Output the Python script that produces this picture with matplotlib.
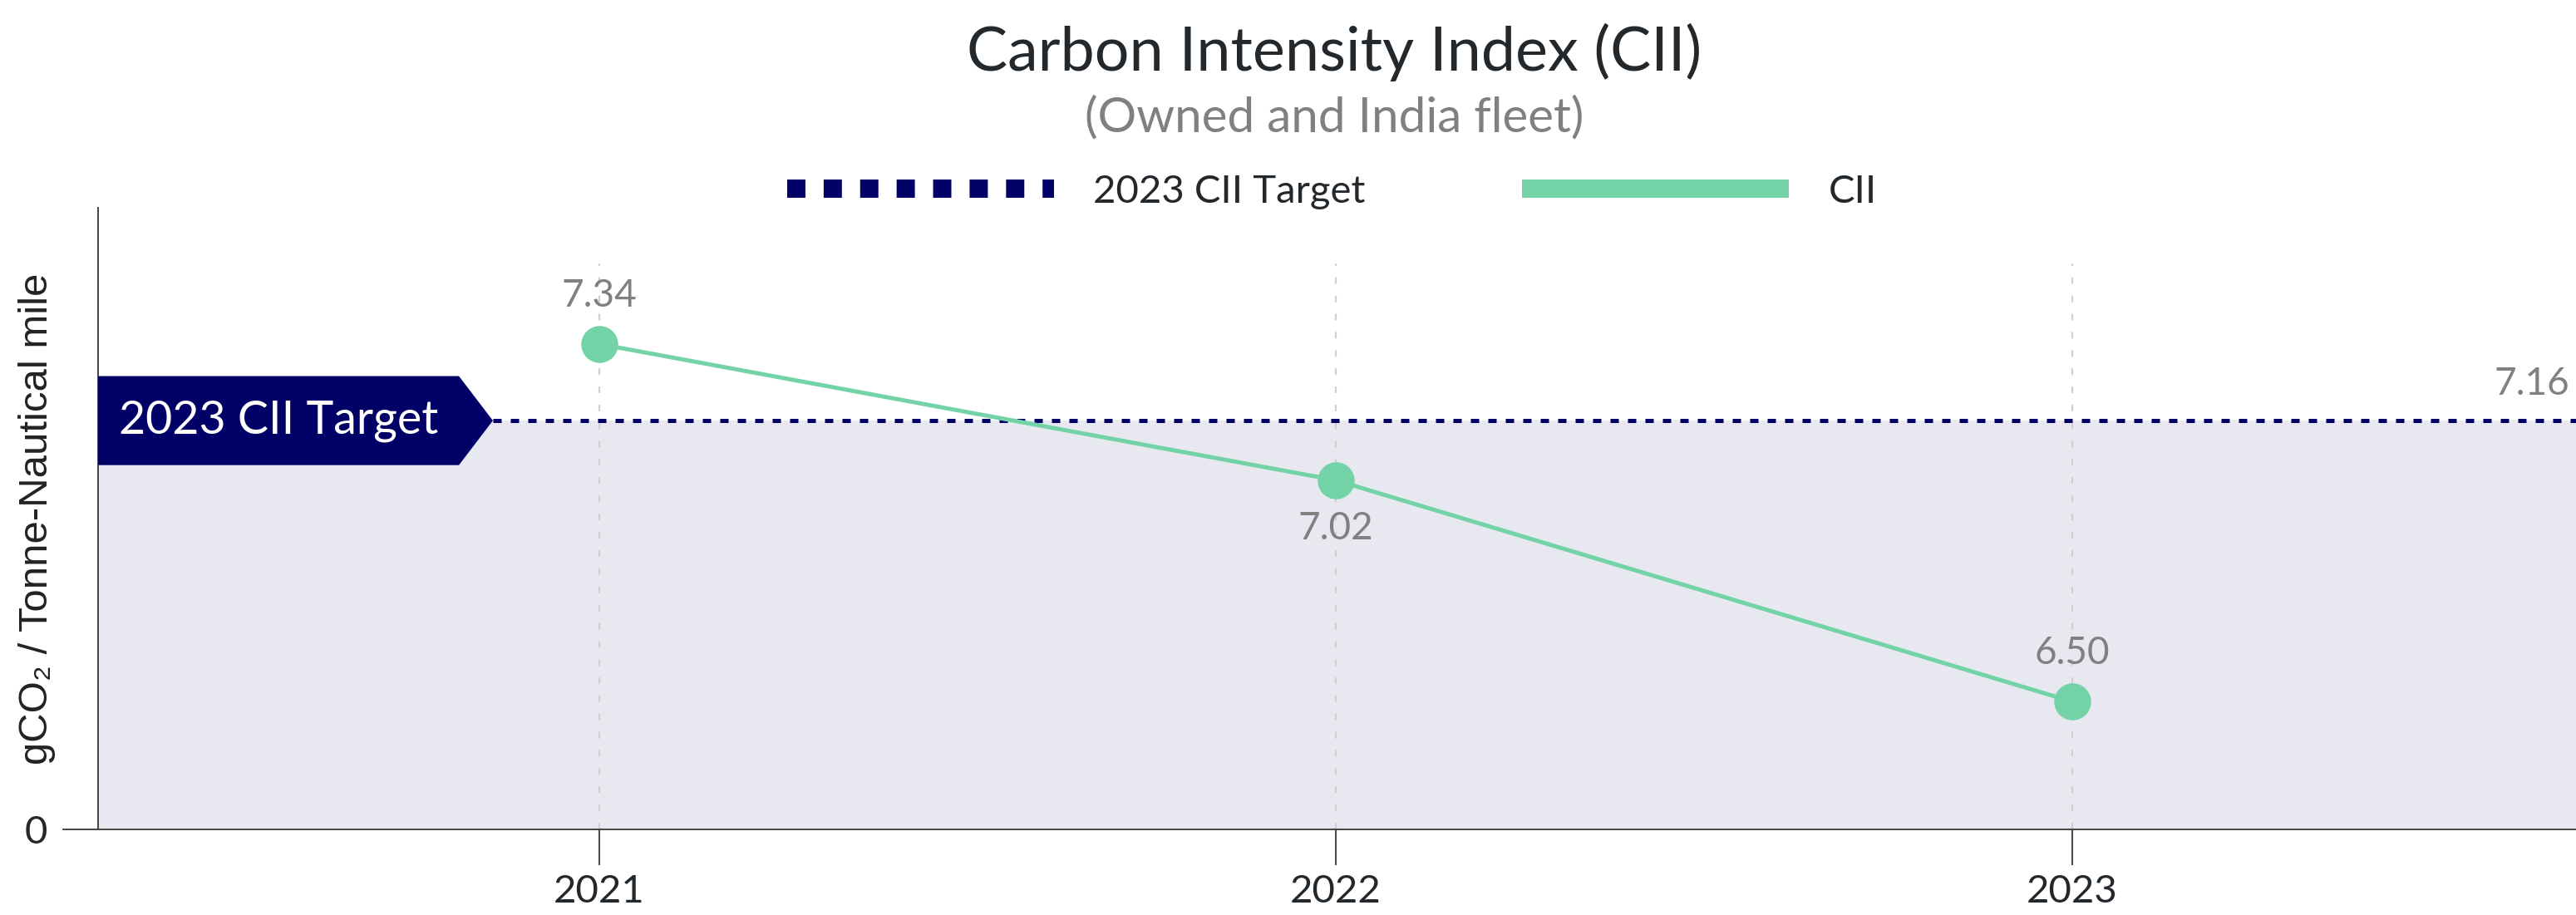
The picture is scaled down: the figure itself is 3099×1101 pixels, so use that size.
import matplotlib
matplotlib.use("Agg")
import matplotlib.pyplot as plt
import matplotlib.transforms as mtransforms
from matplotlib.lines import Line2D
from matplotlib.patches import Polygon

# CII per year and the 2023 target
years = [2021, 2022, 2023]
cii = [7.34, 7.02, 6.50]
target_2023 = 7.16
label_offsets = [21, -21, 21]  # points above (+) / below (-) each marker

GREEN = "#73D3A6"
NAVY = "#000066"
SHADE = "#E8E8F1"
TEXT = "#23282D"
GREY = "#808080"

plt.rcParams["font.family"] = ["Lato", "DejaVu Sans"]

fig = plt.figure(figsize=(15.495, 5.505), dpi=200)
ax = fig.add_axes([0.0381, 0.0936, 0.9619, 0.6794])

y0, y1 = 6.2, 7.66
ax.set_xlim(2020.32, 2023.684)
ax.set_ylim(y0, y1)

# shaded band below the target
ax.axhspan(y0, target_2023, color=SHADE, lw=0, zorder=0)

# light dashed guides at each year
ax.vlines(years, y0, 7.53, colors="#CFCFCF", lw=0.75, linestyles=(0, (3.8, 6.7)), zorder=1)

# target line, starting after the banner
blend = mtransforms.blended_transform_factory(ax.transAxes, ax.transData)
flat_end, tip = 0.1456, 0.1593
ax.plot([tip, 1.0], [target_2023, target_2023], transform=blend, color=NAVY,
        lw=1.8, dashes=(2, 2.2), dash_capstyle="butt", zorder=3)

half_h = 0.1045
banner = Polygon([(0, target_2023 - half_h), (flat_end, target_2023 - half_h),
                  (tip, target_2023), (flat_end, target_2023 + half_h),
                  (0, target_2023 + half_h)],
                 closed=True, transform=blend, facecolor=NAVY, edgecolor="none",
                 zorder=5, clip_on=False)
ax.add_patch(banner)
ax.text(0.0084, target_2023, "2023 CII Target", transform=blend, ha="left", va="center",
        color="white", fontsize=20, zorder=6)
ax.text(0.9975, target_2023 + 0.045, f"{target_2023:.2f}", transform=blend, ha="right",
        va="bottom", color=GREY, fontsize=16.5)

# CII series
ax.plot(years, cii, color=GREEN, lw=1.8, marker="o", ms=15, zorder=4)
for x, v, off in zip(years, cii, label_offsets):
    ax.annotate(f"{v:.2f}", (x, v), xytext=(0, off), textcoords="offset points",
                ha="center", va="center", color=GREY, fontsize=16.5)

# axes styling
for side in ["top", "right"]:
    ax.spines[side].set_visible(False)
for side in ["left", "bottom"]:
    ax.spines[side].set_color("#444444")
    ax.spines[side].set_linewidth(0.7)

ax.set_xticks(years, [str(y) for y in years])
ax.set_yticks([y0], ["0"])
ax.tick_params(axis="both", length=15.5, width=0.7, color="#444444",
               labelcolor=TEXT, labelsize=17)
ax.tick_params(axis="x", pad=4)
ax.tick_params(axis="y", pad=6.5, labelsize=17)

ax.set_ylabel("gCO₂ / Tonne-Nautical mile", fontsize=17.7, color="#222222",
              family=["Liberation Sans", "DejaVu Sans"])
ax.yaxis.set_label_coords(-0.017, 0.5)

# titles, centred over the plot area
cx = 0.518
fig.text(cx, 1 - 63 / 1101, "Carbon Intensity Index (CII)", ha="center", va="center",
         fontsize=26.5, color=TEXT)
fig.text(cx, 1 - 142 / 1101, "(Owned and India fleet)", ha="center", va="center",
         fontsize=21, color=GREY)

# legend
handles = [
    Line2D([], [], color=NAVY, lw=7.9, dashes=(1, 1), dash_capstyle="butt"),
    Line2D([], [], color=GREEN, lw=7.9, solid_capstyle="butt"),
]
fig.legend(handles, ["2023 CII Target", "CII"], loc="center",
           bbox_to_anchor=(0.517, 1 - 231 / 1101), ncol=2, frameon=False,
           handlelength=6.8, columnspacing=4, handletextpad=1, fontsize=17,
           labelcolor=TEXT)

fig.savefig("out.png", dpi=200)
